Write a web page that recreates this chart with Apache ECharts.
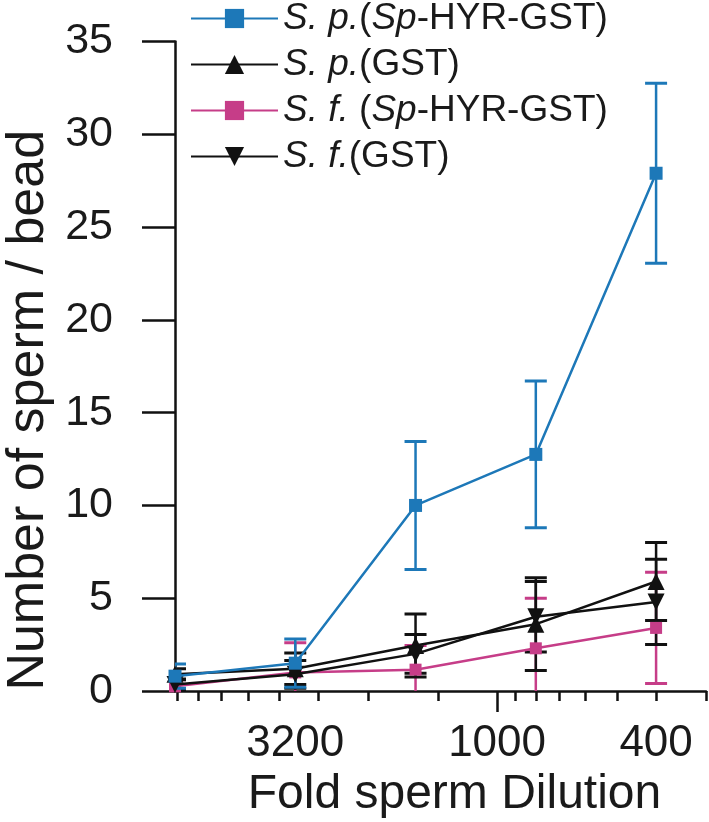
<!DOCTYPE html>
<html>
<head>
<meta charset="utf-8">
<script src="https://cdn.jsdelivr.net/npm/echarts@6/dist/echarts.min.js"></script>
<style>
html,body{margin:0;padding:0;background:#fff;}
#chart{width:709px;height:822px;}
</style>
</head>
<body>
<div id="chart"></div>
<script>
// ---- data ----
const dilutions = [6400, 3200, 1600, 800, 400];
const seriesNames = ['S. p.(Sp-HYR-GST)', 'S. p.(GST)', 'S. f. (Sp-HYR-GST)', 'S. f.(GST)'];
const legendRich = ['{i|S. p.}({i|Sp}-HYR-GST)', '{i|S. p.}(GST)', '{i|S. f.} ({i|Sp}-HYR-GST)', '{i|S. f.}(GST)'];
const spHyr    = [0.8, 1.5, 10.0, 12.75, 27.9];
const spHyrErr = [0.65, 1.3, 3.45, 3.95, 4.85];
const spGst    = [0.9, 1.2, 2.45, 3.6, 5.9];
const spGstErr = [0.3, 0.85, 1.7, 2.5, 2.1];
const sfHyr    = [0.25, 1.0, 1.15, 2.3, 3.4];
const sfHyrErr = [0.35, 1.6, 1.3, 2.7, 3.0];
const sfGst    = [0.35, 0.9, 2.0, 4.0, 4.8];
const sfGstErr = [0.3, 0.75, 1.05, 1.9, 2.3];
const xTickValues = [300, 400, 500, 600, 700, 800, 900, 1000, 1400, 2100, 2800, 3500, 4200, 4900, 5600, 6300];
const xLongTick = [1000];
const xLabelValues = [3200, 1000, 400];
const yTicks = {min: 0, max: 35, interval: 5};

// ---- style ----
const FONT = 'Liberation Sans';
const TXT = '#1a1a1a';
const BLUE = '#1d78b8';
const PINK = '#c63d88';
const BLACK = '#111111';

const vals = [spHyr, spGst, sfHyr, sfGst];
const errs = [spHyrErr, spGstErr, sfHyrErr, sfGstErr];
const colors = [BLUE, BLACK, PINK, BLACK];
const symbols = ['rect', 'triangle', 'rect', 'triangle'];
const symRot = [0, 0, 0, 180];
const symSize = [13, 17, 12, 17];
const zs = [5, 4, 3, 4];

function errRender(color, cap) {
  return function (params, api) {
    const x = api.value(0), lo = api.value(1), hi = api.value(2);
    const p1 = api.coord([x, hi]);
    const p2 = api.coord([x, lo]);
    const st = {stroke: color, lineWidth: 2.5};
    return {
      type: 'group',
      children: [
        {type: 'line', shape: {x1: p1[0], y1: p1[1], x2: p2[0], y2: p2[1]}, style: st},
        {type: 'line', shape: {x1: p1[0] - cap / 2, y1: p1[1], x2: p1[0] + cap / 2, y2: p1[1]}, style: {stroke: color, lineWidth: 3}},
        {type: 'line', shape: {x1: p2[0] - cap / 2, y1: p2[1], x2: p2[0] + cap / 2, y2: p2[1]}, style: {stroke: color, lineWidth: 3}}
      ]
    };
  };
}

const series = [];
for (let k = 0; k < 4; k++) {
  series.push({
    name: 'err' + k,
    type: 'custom',
    clip: true,
    z: zs[k] - 1,
    renderItem: errRender(colors[k], 22),
    encode: {x: 0, y: [1, 2]},
    data: dilutions.map((d, i) => [d, vals[k][i] - errs[k][i], vals[k][i] + errs[k][i]])
  });
}
for (let k = 0; k < 4; k++) {
  series.push({
    name: seriesNames[k],
    type: 'line',
    z: zs[k],
    symbol: symbols[k],
    symbolRotate: symRot[k],
    symbolSize: symSize[k],
    showSymbol: true,
    lineStyle: {color: colors[k], width: 2.5},
    itemStyle: {color: colors[k]},
    data: dilutions.map((d, i) => [d, vals[k][i]])
  });
}

const xBase = {
  type: 'log', logBase: 10, min: 300, max: 6400, inverse: true,
  position: 'bottom', gridIndex: 0, splitLine: {show: false}, minorTick: {show: false}
};

const chart = echarts.init(document.getElementById('chart'), null, {renderer: 'canvas'});
chart.setOption({
  backgroundColor: '#ffffff',
  animation: false,
  textStyle: {fontFamily: FONT},
  grid: {left: 175, right: 3, top: 41.5, bottom: 131, containLabel: false, outerBoundsMode: 'none'},
  legend: {
    orient: 'vertical', left: 185, top: -5,
    data: seriesNames,
    itemWidth: 87, itemHeight: 24, itemGap: 9,
    formatter: function (name) { return legendRich[seriesNames.indexOf(name)]; },
    textStyle: {
      fontFamily: FONT, fontSize: 37, color: TXT, lineHeight: 36, padding: [0, 0, 0, 0],
      rich: {i: {fontFamily: FONT, fontSize: 37, fontStyle: 'italic', color: TXT, lineHeight: 36}}
    },
    lineStyle: {width: 2}
  },
  xAxis: [
    Object.assign({}, xBase, {
      name: 'Fold sperm Dilution', nameLocation: 'middle', nameGap: 45,
      nameTextStyle: {fontFamily: FONT, fontSize: 48, color: TXT, padding: [0, 0, 0, 28]},
      axisLine: {lineStyle: {color: BLACK, width: 2.5}},
      axisTick: {show: true, length: 10, lineStyle: {color: BLACK, width: 2.5}, customValues: xTickValues},
      axisLabel: {show: true, margin: 31, fontFamily: FONT, fontSize: 44, color: TXT,
        customValues: xLabelValues, formatter: function (v) { return String(Math.round(v)); }}
    }),
    Object.assign({}, xBase, {
      axisLine: {show: false},
      axisTick: {show: true, length: 21, lineStyle: {color: BLACK, width: 2.5}, customValues: xLongTick},
      axisLabel: {show: false}
    })
  ],
  yAxis: {
    type: 'value', min: yTicks.min, max: yTicks.max, interval: yTicks.interval,
    name: 'Number of sperm / bead', nameLocation: 'middle', nameGap: 117,
    nameTextStyle: {fontFamily: FONT, fontSize: 52, color: TXT, padding: [0, 88, 0, 0]},
    splitLine: {show: false},
    axisLine: {show: true, lineStyle: {color: BLACK, width: 2.5}},
    axisTick: {show: true, length: 33, lineStyle: {color: BLACK, width: 2.5}},
    axisLabel: {margin: 62, fontFamily: FONT, fontSize: 43, color: TXT}
  },
  series: series
});
</script>
</body>
</html>
